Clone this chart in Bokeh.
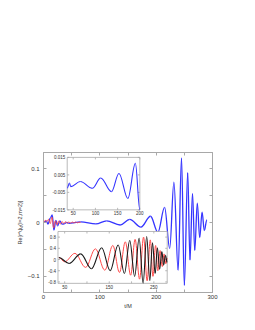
import numpy as np
from bokeh.plotting import figure
from bokeh.models import Range1d, LinearAxis, FixedTicker, CustomJSTickFormatter
from bokeh.embed import file_html
from bokeh.resources import INLINE
from bokeh.core.properties import value

# ---------------- data (extrema of the curves) ----------------
# main panel, blue: Re[r*psi4] (l=2, m=2) versus t/M
blue_t = [0, 5, 8, 12, 15.5, 18.5, 22, 25, 29, 33, 36.5, 41.5, 44.5, 66, 93, 112, 136, 153,
          173, 190, 203, 215, 224, 231.5, 239, 245, 250, 256, 260, 264.5, 268.5, 273, 277.3,
          281.5, 285.5, 290]
blue_v = [0.0, 0.003, -0.003, 0.008, 0.014, -0.014, 0.004, -0.006, 0.003, -0.003, -0.0026,
          0.0003, -0.0017, 0.0012, -0.0027, 0.0032, -0.0046, 0.0058, -0.0085, 0.0116, -0.018,
          0.028, -0.048, 0.075, -0.089, 0.12, -0.117, 0.093, -0.07, 0.054, -0.052, 0.036,
          -0.028, 0.019, -0.015, 0.005]
# main panel, red (early part only)
red_t = [0, 3, 6, 9, 12, 15, 18, 21, 24, 27, 30, 33, 36, 39, 42, 45, 48, 51, 54, 57, 60, 63, 66]
red_v = [0.0, 0.004, 0.002, 0.006, -0.002, 0.01, -0.01, 0.003, -0.004, 0.003, -0.003, 0.002,
         -0.002, 0.0015, -0.0015, 0.001, -0.0012, 0.001, -0.0008, 0.0008, -0.0006, 0.0005, 0.0003]

# upper inset (zoom of the blue curve)
up_t = [36.5, 41.5, 44.5, 66, 93, 112, 136, 153, 173, 190, 200]
up_v = [-0.0026, 0.0003, -0.0017, 0.0012, -0.0027, 0.0032, -0.0046, 0.0058, -0.0085, 0.0116, -0.015]
up_xlim = [36.5, 200]
up_ylim = [-0.015, 0.015]
up_xticks = [50, 100, 150, 200]
up_xlabels = ["50", "100", "150", "200"]
up_yticks = [-0.015, -0.005, 0.005, 0.015]
up_ylabels = ["-0.015", "-0.005", "0.005", "0.015"]

# lower inset (normalised waveforms, black and red)
blk_t = [37, 60, 86, 110, 133, 152, 170, 184, 196, 207, 217, 226, 234, 241, 247, 253, 258,
         263, 268, 272, 276, 280]
blk_v = [0.07, -0.14, 0.2, -0.33, 0.42, -0.4, 0.52, -0.5, 0.68, -0.6, 0.76, -0.84, 0.82,
         -0.75, 0.6, -0.5, 0.42, -0.35, 0.28, -0.2, 0.15, -0.1]
rd_t = [37, 50, 73, 97, 119, 140, 158, 173, 186, 198, 208, 218, 227, 235, 242, 248, 254,
        259, 264, 269, 273, 277, 280]
rd_v = [0.07, -0.08, 0.22, -0.28, 0.38, -0.38, 0.5, -0.46, 0.63, -0.56, 0.72, -0.7, 0.8,
        -0.76, 0.7, -0.6, 0.5, -0.4, 0.32, -0.25, 0.2, -0.15, 0.05]
lo_xlim = [35, 280]
lo_ylim = [-0.85, 1.0]
lo_xticks = [50, 150, 250]
lo_xlabels = ["50", "150", "250"]
lo_xminor = [100, 200]
lo_yticks = [-0.8, -0.4, 0, 0.4, 0.8]
lo_ylabels = ["-0.8", "-0.4", "0", "0.4", "0.8"]

# main axes ticks
x_major = [0, 100, 200, 300]
x_minor = [50, 150, 250]
y_major = [-0.1, 0, 0.1]
y_minor = [-0.05, 0.05]
y_labels = {-0.1: "\u22120.1", 0: "0", 0.1: "0.1"}

# ---------------- styling ----------------
FONT = value("Liberation Sans")
FRAME = "#a8a8a8"
TXT = "#333333"
BLUE = "#3535ff"
RED = "#ff4a4a"
BLACK = "#1a1a1a"


def wave(api, t, v, **kw):
    t = np.asarray(t, float)
    v = np.asarray(v, float)
    dt = np.diff(t)
    api.bezier(x0=t[:-1], y0=v[:-1], x1=t[1:], y1=v[1:],
               cx0=t[:-1] + 0.364 * dt, cy0=v[:-1],
               cx1=t[1:] - 0.364 * dt, cy1=v[1:], **kw)


p = figure(width=239, height=314, output_backend="svg", toolbar_location=None,
           x_range=Range1d(0, 300), y_range=Range1d(-0.13, 0.13),
           min_border_left=43, min_border_right=27, min_border_top=152, min_border_bottom=22)
p.grid.visible = False
p.outline_line_color = FRAME
p.background_fill_color = "white"
p.border_fill_color = "white"

def style_axis(ax, ticks, minor, labelled=True):
    ax.ticker = FixedTicker(ticks=ticks, minor_ticks=minor)
    ax.axis_line_color = FRAME
    ax.major_tick_line_color = FRAME
    ax.minor_tick_line_color = FRAME
    ax.major_tick_in = 3
    ax.major_tick_out = 0
    ax.minor_tick_in = 3
    ax.minor_tick_out = 0
    ax.major_label_text_font = "Liberation Sans"
    ax.major_label_text_font_size = "6px"
    ax.major_label_text_color = TXT
    if not labelled:
        ax.formatter = CustomJSTickFormatter(code="return ''")

style_axis(p.xaxis[0], x_major, x_minor)
p.xaxis.major_label_standoff = 2
p.xaxis.axis_label = "t/M"
p.xaxis.axis_label_text_font = "Liberation Sans"
p.xaxis.axis_label_text_font_size = "5.5px"
p.xaxis.axis_label_text_font_style = "normal"
p.xaxis.axis_label_standoff = 1
p.xaxis.axis_label_text_color = TXT

style_axis(p.yaxis[0], y_major, y_minor)
p.yaxis.major_label_overrides = y_labels
p.yaxis.major_label_standoff = 4
p.yaxis.axis_label = "Re[r*\u03c8\u2084(l=2,m=2)]"
p.yaxis.axis_label_text_font = "Liberation Sans"
p.yaxis.axis_label_text_font_size = "5.5px"
p.yaxis.axis_label_text_font_style = "normal"
p.yaxis.axis_label_standoff = 2
p.yaxis.axis_label_text_color = TXT

top = LinearAxis()
style_axis(top, x_major, x_minor, labelled=False)
p.add_layout(top, "above")
right = LinearAxis()
style_axis(right, y_major, y_minor, labelled=False)
p.add_layout(right, "right")

# main curves
wave(p, blue_t, blue_v, line_color=BLUE, line_width=1.3)
wave(p, red_t, red_v, line_color=RED, line_width=1.0, line_alpha=0.9)


def inset(api, xlim, ylim, xticks, xlabels, yticks, ylabels, xminor=()):
    api.quad(left=[xlim[0]], right=[xlim[1]], bottom=[ylim[0]], top=[ylim[1]],
             fill_color="white", line_color=FRAME, line_width=0.8)
    allx = list(xticks) + list(xminor)
    n = len(allx)
    api.ray(x=allx, y=[ylim[0]] * n, length=2, length_units="screen", angle=np.pi / 2,
            line_color=FRAME, line_width=0.8)
    api.ray(x=allx, y=[ylim[1]] * n, length=2, length_units="screen", angle=-np.pi / 2,
            line_color=FRAME, line_width=0.8)
    m = len(yticks)
    api.ray(x=[xlim[0]] * m, y=yticks, length=2, length_units="screen", angle=0,
            line_color=FRAME, line_width=0.8)
    api.ray(x=[xlim[1]] * m, y=yticks, length=2, length_units="screen", angle=np.pi,
            line_color=FRAME, line_width=0.8)
    api.text(x=xticks, y=[ylim[0]] * len(xticks), text=xlabels, text_font=FONT,
             text_font_size="4.5px", text_color=TXT, text_align="center",
             text_baseline="top", y_offset=1.5)
    api.text(x=[xlim[0]] * m, y=yticks, text=ylabels, text_font=FONT,
             text_font_size="4.5px", text_color=TXT, text_align="right",
             text_baseline="middle", x_offset=-2)


# upper inset
ins1 = p.subplot(x_source=Range1d(*up_xlim), y_source=Range1d(*up_ylim),
                 x_target=Range1d(42.1, 171.0), y_target=Range1d(0.0235, 0.1209))
inset(ins1, up_xlim, up_ylim, up_xticks, up_xlabels, up_yticks, up_ylabels)
wave(ins1, up_t, up_v, line_color=BLUE, line_width=1.1)

# lower inset
ins2 = p.subplot(x_source=Range1d(*lo_xlim), y_source=Range1d(*lo_ylim),
                 x_target=Range1d(25.7, 219.6), y_target=Range1d(-0.113, -0.0167))
inset(ins2, lo_xlim, lo_ylim, lo_xticks, lo_xlabels, lo_yticks, lo_ylabels, lo_xminor)
wave(ins2, rd_t, rd_v, line_color=RED, line_width=1.0)
wave(ins2, blk_t, blk_v, line_color=BLACK, line_width=1.1)

open("out.html", "w").write(file_html(p, INLINE))
